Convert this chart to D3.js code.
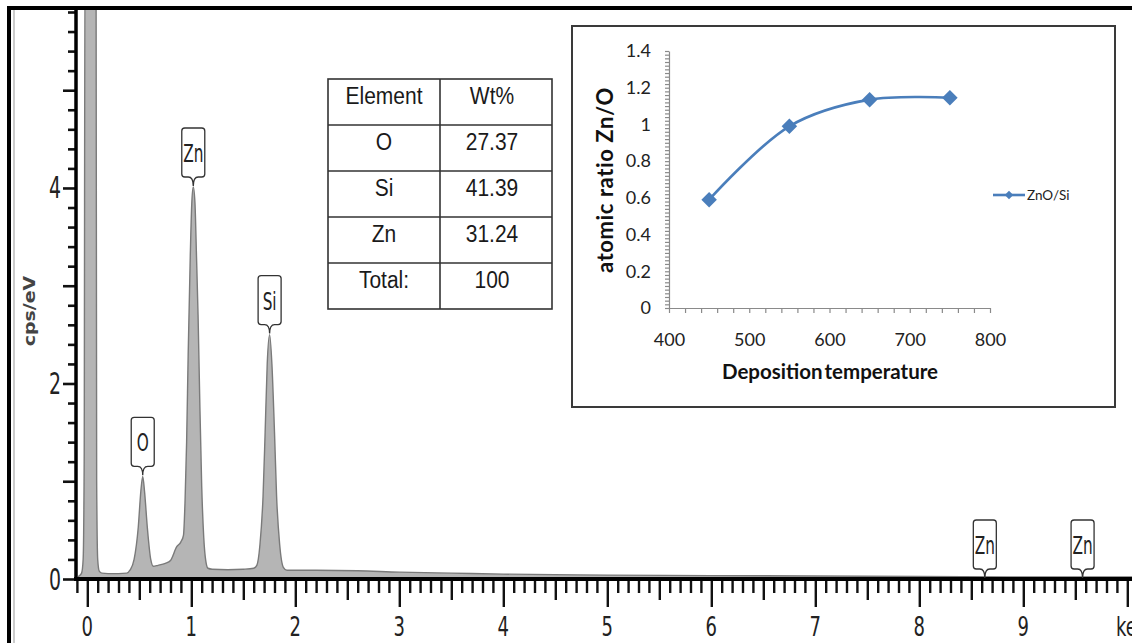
<!DOCTYPE html>
<html>
<head>
<meta charset="utf-8">
<script src="https://cdn.jsdelivr.net/npm/d3@7"></script>
<style>
  body { margin: 0; background: #fff; }
  svg { display: block; }
</style>
</head>
<body>
<div id="chart"></div>
<script>
// EDS spectrum: energy (keV) and counts (cps/eV)
let specEnergy = [-0.11, -0.08, -0.055, -0.04, -0.03, -0.022, 0.084, 0.09, 0.1, 0.115, 0.14,
  0.2, 0.3, 0.38, 0.41, 0.45, 0.49, 0.515, 0.533, 0.55, 0.577, 0.61, 0.635,
  0.68, 0.75, 0.8, 0.86, 0.9, 0.925, 0.94, 0.955, 0.97, 0.99, 1.005, 1.019, 1.035, 1.05, 1.065, 1.08, 1.1, 1.12, 1.14, 1.16,
  1.2, 1.35, 1.5, 1.6, 1.63, 1.66, 1.69, 1.71, 1.73, 1.753, 1.775, 1.8, 1.82, 1.85, 1.885, 1.92,
  2.2, 2.6, 3.0, 3.5, 4.0, 5.0, 6.0, 7.0, 8.0, 9.0, 10.4];
let specCounts = [0.02, 0.03, 0.06, 0.2, 1.2, 6.5, 6.5, 1.0, 0.2, 0.08, 0.06,
  0.055, 0.055, 0.06, 0.09, 0.2, 0.53, 0.9, 1.05, 0.9, 0.53, 0.2, 0.13,
  0.14, 0.16, 0.19, 0.33, 0.38, 0.45, 0.8, 1.4, 2.3, 3.3, 3.85, 4.01, 3.85, 3.3, 2.7, 1.9, 0.95, 0.42, 0.18, 0.11,
  0.1, 0.095, 0.1, 0.11, 0.14, 0.35, 0.85, 1.5, 2.2, 2.5, 2.2, 1.5, 0.85, 0.35, 0.12, 0.09,
  0.09, 0.085, 0.07, 0.06, 0.05, 0.04, 0.035, 0.03, 0.025, 0.02, 0.02];

let peakNames = ["O", "Zn", "Si", "Zn", "Zn"];
let peakEnergy = [0.533, 1.019, 1.753, 8.63, 9.57];
let peakTop = [1.05, 4.01, 2.5, 0, 0];

let yTickLabels = [0, 2, 4];
let xTickLabels = [0, 1, 2, 3, 4, 5, 6, 7, 8, 9];

let tableHead = ["Element", "Wt%"];
let tableElement = ["O", "Si", "Zn", "Total:"];
let tableWt = ["27.37", "41.39", "31.24", "100"];

let depTemp = [450, 550, 650, 750];
let znRatio = [0.59, 0.99, 1.135, 1.145];
let insetXTicks = [400, 500, 600, 700, 800];
let insetYTicks = [0, 0.2, 0.4, 0.6, 0.8, 1, 1.2, 1.4];
let seriesName = "ZnO/Si";

let width = 1132, height = 643;
let narrow = "'Liberation Sans Narrow', 'DejaVu Sans Condensed', 'Liberation Sans', sans-serif";
let calib = "Lato, 'Open Sans', sans-serif";

let svg = d3.select("#chart").append("svg")
  .attr("width", width)
  .attr("height", height);

svg.append("rect").attr("width", width).attr("height", height).attr("fill", "#fff");

// ---------- main spectrum ----------
let x = d3.scaleLinear().domain([0, 9]).range([87.3, 1023.3]);
let y = d3.scaleLinear().domain([0, 5.8]).range([579, 12]);

svg.append("clipPath").attr("id", "plotclip")
  .append("rect").attr("x", 78).attr("y", 10).attr("width", width).attr("height", 569);

let spec = specEnergy.map((e, i) => [e, specCounts[i]]);

let area = d3.area()
  .x(d => x(d[0]))
  .y0(y(0))
  .y1(d => y(d[1]))
  .curve(d3.curveMonotoneX);

svg.append("path")
  .datum(spec)
  .attr("clip-path", "url(#plotclip)")
  .attr("d", area)
  .attr("fill", "#b5b5b5")
  .attr("stroke", "#7a7a7a")
  .attr("stroke-width", 1.4);

// x axis with 0.1 keV ticks
let xTickVals = d3.range(-1, 105).map(i => i / 10);
let xAxis = svg.append("g")
  .attr("transform", "translate(0," + y(0) + ")")
  .call(d3.axisBottom(x).tickValues(xTickVals).tickSize(14).tickFormat(""));
xAxis.select(".domain").remove();
xAxis.selectAll(".tick line")
  .attr("stroke", "#111")
  .attr("stroke-width", 2.4)
  .attr("y2", (d, i) => {
    let k = Math.round(d * 10);
    if (k % 10 === 0) return 28;
    if (k % 5 === 0) return 21;
    return 14;
  });
svg.append("line")
  .attr("x1", 74).attr("x2", width)
  .attr("y1", y(0)).attr("y2", y(0))
  .attr("stroke", "#000").attr("stroke-width", 4);

svg.selectAll(".xlab").data(xTickLabels).enter().append("text")
  .attr("class", "xlab")
  .attr("transform", d => "translate(" + x(d) + ",636) scale(1,1.3)")
  .attr("text-anchor", "middle")
  .style("font-family", narrow)
  .style("font-size", "20px")
  .attr("fill", "#222")
  .text(d => d);

svg.append("text")
  .attr("transform", "translate(1116,636) scale(1,1.3)")
  .style("font-family", narrow)
  .style("font-size", "20px")
  .attr("fill", "#222")
  .text("keV");

// y axis with 0.2 ticks
let yTickVals = d3.range(0, 30).map(i => i / 5);
let yAxis = svg.append("g")
  .attr("transform", "translate(76,0)")
  .call(d3.axisLeft(y).tickValues(yTickVals).tickSize(8).tickFormat(""));
yAxis.select(".domain").remove();
yAxis.selectAll(".tick line")
  .attr("stroke", "#111")
  .attr("stroke-width", 2.6)
  .attr("x2", d => (Math.round(d * 5) % 5 === 0 ? -13 : -8));
svg.append("line")
  .attr("x1", 76).attr("x2", 76)
  .attr("y1", 10).attr("y2", y(0) + 2)
  .attr("stroke", "#000").attr("stroke-width", 3.5);

svg.selectAll(".ylab").data(yTickLabels).enter().append("text")
  .attr("class", "ylab")
  .attr("transform", d => "translate(61," + (y(d) + 10.5) + ") scale(1,1.4)")
  .attr("text-anchor", "end")
  .style("font-family", narrow)
  .style("font-size", "21px")
  .attr("fill", "#222")
  .text(d => d);

svg.append("text")
  .attr("transform", "translate(35,311) rotate(-90) scale(1.4,1)")
  .attr("text-anchor", "middle")
  .style("font-family", narrow)
  .style("font-size", "15px")
  .style("font-weight", "bold")
  .attr("fill", "#444")
  .text("cps/eV");

// element tags on the peaks
let tagW = 11.5, tagH = 49, tagP = 9, tagR = 3;
let tags = svg.selectAll(".tag").data(peakNames).enter().append("g").attr("class", "tag");
tags.append("path")
  .attr("d", (d, i) => {
    let cx = x(peakEnergy[i]), tip = y(peakTop[i]) - 1;
    let b = tip - tagP, t = b - tagH;
    return "M" + (cx - tagW) + "," + (t + tagR) +
      " Q" + (cx - tagW) + "," + t + " " + (cx - tagW + tagR) + "," + t +
      " H" + (cx + tagW - tagR) +
      " Q" + (cx + tagW) + "," + t + " " + (cx + tagW) + "," + (t + tagR) +
      " V" + (b - tagR) +
      " Q" + (cx + tagW) + "," + b + " " + (cx + tagW - tagR) + "," + b +
      " H" + (cx + 5) +
      " Q" + cx + "," + b + " " + cx + "," + tip +
      " Q" + cx + "," + b + " " + (cx - 5) + "," + b +
      " H" + (cx - tagW + tagR) +
      " Q" + (cx - tagW) + "," + b + " " + (cx - tagW) + "," + (b - tagR) + " Z";
  })
  .attr("fill", "#fff")
  .attr("stroke", "#333")
  .attr("stroke-width", 1.3);
tags.append("text")
  .attr("transform", (d, i) => {
    let t = y(peakTop[i]) - 1 - tagP - tagH;
    return "translate(" + x(peakEnergy[i]) + "," + (t + 34) + ") scale(1,1.45)";
  })
  .attr("text-anchor", "middle")
  .style("font-family", narrow)
  .style("font-size", "17px")
  .attr("fill", "#222")
  .text(d => d);

// ---------- composition table ----------
let rowNames = [tableHead[0]].concat(tableElement);
let rowBand = d3.scaleBand().domain(rowNames).range([79, 309]);
let colBand = d3.scaleBand().domain([0, 1]).range([328, 552]);

let table = svg.append("g");
table.append("rect")
  .attr("x", 328).attr("y", 79)
  .attr("width", 224).attr("height", 230)
  .attr("fill", "#fff").attr("stroke", "#333").attr("stroke-width", 1.6);
table.selectAll(".hline").data(rowNames.slice(1)).enter().append("line")
  .attr("x1", 328).attr("x2", 552)
  .attr("y1", d => rowBand(d)).attr("y2", d => rowBand(d))
  .attr("stroke", "#333").attr("stroke-width", 1.6);
table.append("line")
  .attr("x1", colBand(1)).attr("x2", colBand(1))
  .attr("y1", 79).attr("y2", 309)
  .attr("stroke", "#333").attr("stroke-width", 1.6);

let cells = [];
cells.push([tableHead[0], tableHead[1], tableHead[0]]);
tableElement.forEach((e, i) => cells.push([e, tableWt[i], e]));

cells.forEach(c => {
  [0, 1].forEach(j => {
    table.append("text")
      .attr("transform", "translate(" + (colBand(j) + colBand.bandwidth() / 2 - (j ? 4 : 0)) + "," + (rowBand(c[2]) + 25) + ") scale(1,1.12)")
      .attr("text-anchor", "middle")
      .style("font-family", "'Liberation Sans', Arial, sans-serif")
      .style("font-size", "21px")
      .attr("fill", "#1a1a1a")
      .text(c[j]);
  });
});

// ---------- inset: atomic ratio vs deposition temperature ----------
let inset = svg.append("g");
inset.append("rect")
  .attr("x", 572).attr("y", 26)
  .attr("width", 543).attr("height", 381)
  .attr("fill", "#fff").attr("stroke", "#3a3a3a").attr("stroke-width", 2);

let ix = d3.scaleLinear().domain([400, 800]).range([669, 990]);
let iy = d3.scaleLinear().domain([0, 1.4]).range([308, 51]);

let ixAxis = inset.append("g")
  .attr("transform", "translate(0," + iy(0) + ")")
  .call(d3.axisBottom(ix).tickValues(d3.range(400, 801, 20)).tickSize(5).tickSizeOuter(0).tickPadding(20)
    .tickFormat(d => (insetXTicks.indexOf(d) >= 0 ? d : "")));
let iyAxis = inset.append("g")
  .attr("transform", "translate(" + ix(400) + ",0)")
  .call(d3.axisLeft(iy).tickValues(d3.range(0, 71).map(i => i / 50)).tickSize(4).tickSizeOuter(0).tickPadding(14)
    .tickFormat(d => {
      let k = Math.round(d * 50);
      return k % 10 === 0 ? d3.format("")(insetYTicks[k / 10]) : "";
    }));
[ixAxis, iyAxis].forEach(a => {
  a.selectAll("path, line").attr("stroke", "#8a8a8a").attr("stroke-width", 1.2);
  a.selectAll("text")
    .style("font-family", calib)
    .style("font-size", "18px")
    .attr("fill", "#222");
});

inset.append("text")
  .attr("x", 830).attr("y", 379)
  .attr("text-anchor", "middle")
  .style("font-family", calib)
  .style("font-size", "20.5px")
  .style("font-weight", "bold")
  .style("word-spacing", "-3px")
  .attr("fill", "#111")
  .text("Deposition temperature");

inset.append("text")
  .attr("transform", "translate(613,180) rotate(-90)")
  .attr("text-anchor", "middle")
  .style("font-family", calib)
  .style("font-size", "22px")
  .style("font-weight", "bold")
  .style("letter-spacing", "0.6px")
  .attr("fill", "#111")
  .text("atomic ratio Zn/O");

let pts = depTemp.map((t, i) => [t, znRatio[i]]);
let line = d3.line()
  .x(d => ix(d[0]))
  .y(d => iy(d[1]))
  .curve(d3.curveCatmullRom.alpha(0.5));

inset.append("path")
  .datum(pts)
  .attr("d", line)
  .attr("fill", "none")
  .attr("stroke", "#4a7ebb")
  .attr("stroke-width", 2.6);

let diamond = d3.symbol().type(d3.symbolSquare).size(120);
inset.selectAll(".mk").data(pts).enter().append("path")
  .attr("class", "mk")
  .attr("transform", d => "translate(" + ix(d[0]) + "," + iy(d[1]) + ") rotate(45)")
  .attr("d", diamond)
  .attr("fill", "#4a7ebb");

// legend
inset.append("line")
  .attr("x1", 993).attr("x2", 1025)
  .attr("y1", 195).attr("y2", 195)
  .attr("stroke", "#4a7ebb").attr("stroke-width", 2.6);
inset.append("path")
  .attr("transform", "translate(1009,195) rotate(45)")
  .attr("d", d3.symbol().type(d3.symbolSquare).size(36))
  .attr("fill", "#4a7ebb");
inset.append("text")
  .attr("x", 1027).attr("y", 199.5)
  .style("font-family", calib)
  .style("font-size", "13.5px")
  .attr("fill", "#222")
  .text(seriesName);

// ---------- frame ----------
svg.append("rect")
  .attr("x", 9).attr("y", 8)
  .attr("width", width + 20).attr("height", height + 20)
  .attr("fill", "none").attr("stroke", "#000").attr("stroke-width", 4);
svg.append("line")
  .attr("x1", 14).attr("x2", 14)
  .attr("y1", 10).attr("y2", height)
  .attr("stroke", "#aaa").attr("stroke-width", 1.2);
</script>
</body>
</html>
